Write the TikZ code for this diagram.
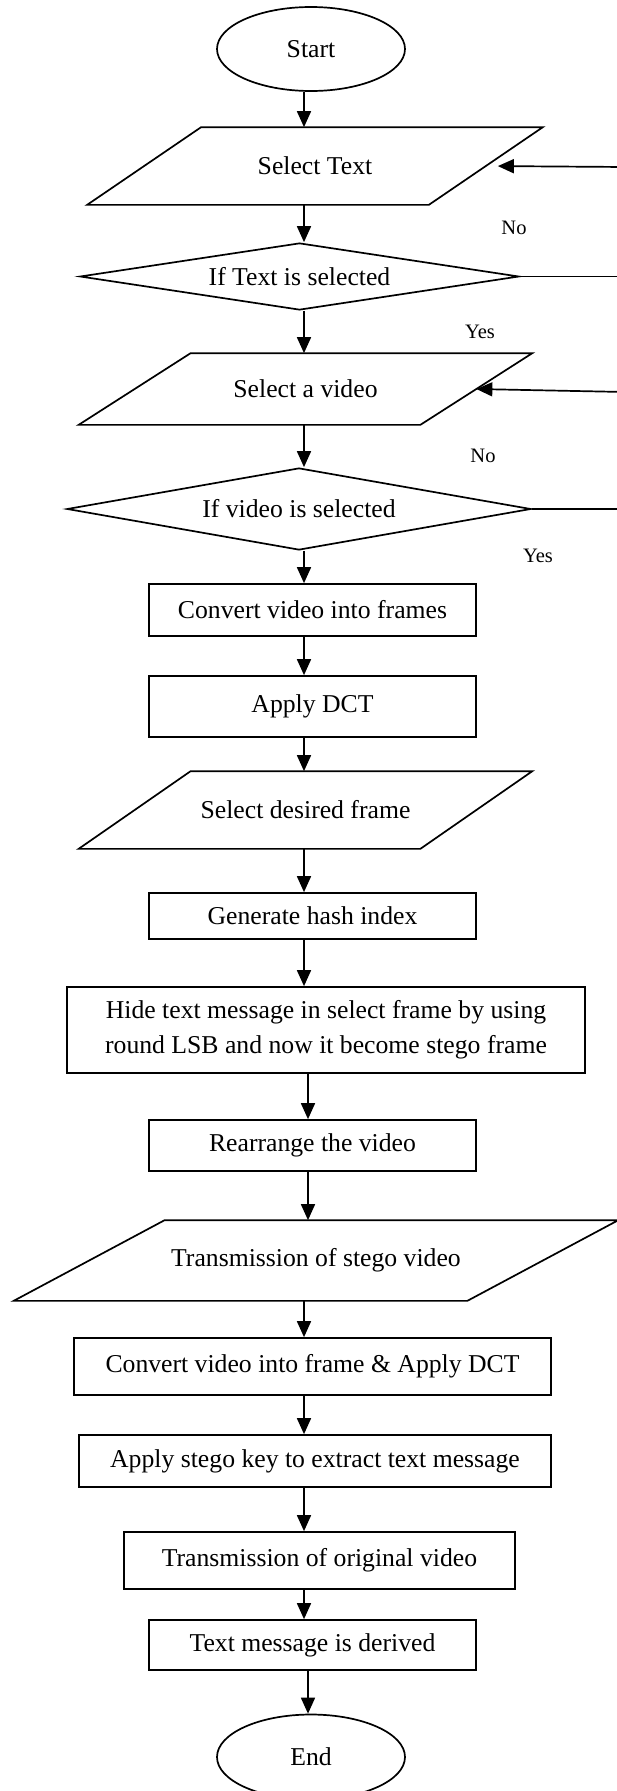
\documentclass[tikz,border=0pt]{standalone}
\usepackage{fontspec}
\setmainfont{Liberation Serif}
\usetikzlibrary{shapes.geometric, arrows.meta}

\begin{document}
\begin{tikzpicture}[x=1pt, y=-1pt, line width=1.7pt,
    >={Triangle[length=16pt,width=14pt]},
    every node/.style={font=\fontsize{25.7}{35}\selectfont},
    terminal/.style={draw, ellipse, minimum width=188pt, minimum height=84pt, inner sep=0pt},
    inout/.style={minimum width=340pt, minimum height=76pt, inner sep=0pt,
      append after command={\pgfextra{\draw ([xshift=-#1]\tikzlastnode.south west)
        -- ([xshift=-#1]\tikzlastnode.south east) -- ([xshift=#1]\tikzlastnode.north east)
        -- ([xshift=#1]\tikzlastnode.north west) -- cycle;}}},
    inout/.default=57pt,
    decision/.style={draw, diamond, aspect=5, inner sep=0pt},
    process/.style={draw, rectangle, minimum width=327pt, inner sep=0pt},
    answer/.style={font=\fontsize{20.5}{24}\selectfont}]
      \useasboundingbox (0,0) rectangle (617,1791);
      \clip (0,0) rectangle (617,1791);
      \coordinate (spine) at (304,0);
      \coordinate (spine2) at (308,0);
      % Steps
      \node[terminal] (start) at (311,49) {Start};
      \node[inout] (seltext) at (315,166) {Select Text};
      \node[decision, minimum width=439pt, minimum height=67pt] (iftext) at (299.5,276.5) {If Text is selected};
      \node[inout=56pt, minimum height=70pt] (selvid) at (305.5,389) {Select a video};
      \node[decision, minimum width=464pt, minimum height=82pt] (ifvid) at (299,509) {If video is selected};
      \node[process, minimum height=52pt] (conv) at (312.5,610) {Convert video into frames};
      \node[process, minimum height=61pt] (dct) at (312.5,706.5) {Apply DCT};
      \node[inout=56pt] (selframe) at (305.5,810) {Select desired frame};
      \node[process, minimum height=46pt] (hash) at (312.5,916) {Generate hash index};
      \node[process, minimum width=518pt, minimum height=86pt, align=center] (hide) at (326,1030) {Hide text message in select frame by using\\round LSB and now it become stego frame};
      \node[process, minimum height=51pt] (rearr) at (312.5,1145.5) {Rearrange the video};
      \node[inout=75.5pt, minimum width=452pt, minimum height=79pt] (trans) at (316,1260.5) {Transmission of stego video};
      \node[process, minimum width=477pt, minimum height=57pt] (conv2) at (312.5,1366.5) {Convert video into frame \& Apply DCT};
      \node[process, minimum width=472pt, minimum height=52pt] (key) at (315,1461) {Apply stego key to extract text message};
      \node[process, minimum width=391pt, minimum height=57pt] (orig) at (319.5,1560.5) {Transmission of original video};
      \node[process, minimum height=50pt] (derived) at (312.5,1645) {Text message is derived};
      \node[terminal, minimum height=85pt] (end) at (311,1757) {End};
      % Answers
      \node[answer] (no1) at (514,228) {No};
      \node[answer] (yes1) at (480,332) {Yes};
      \node[answer] (no2) at (483,456) {No};
      \node[answer] (yes2) at (538,556) {Yes};
      % Arrows
      \draw[->] (start.south -| spine) -- (seltext.north -| spine);
      \draw[->] (seltext.south -| spine) -- (iftext.north -| spine);
      \draw[->] (iftext.south -| spine) -- (selvid.north -| spine);
      \draw[->] (selvid.south -| spine) -- (ifvid.north -| spine);
      \draw[->] (ifvid.south -| spine) -- (conv.north -| spine);
      \draw[->] (conv.south -| spine) -- (dct.north -| spine);
      \draw[->] (dct.south -| spine) -- (selframe.north -| spine);
      \draw[->] (selframe.south -| spine) -- (hash.north -| spine);
      \draw[->] (hash.south -| spine) -- (hide.north -| spine);
      \draw[->] (hide.south -| spine2) -- (rearr.north -| spine2);
      \draw[->] (rearr.south -| spine2) -- (trans.north -| spine2);
      \draw[->] (trans.south -| spine) -- (conv2.north -| spine);
      \draw[->] (conv2.south -| spine) -- (key.north -| spine);
      \draw[->] (key.south -| spine) -- (orig.north -| spine);
      \draw[->] (orig.south -| spine) -- (derived.north -| spine);
      \draw[->] (derived.south -| spine2) -- (end.north -| spine2);
      % Loops back
      \coordinate (back1) at (625,167);
      \coordinate (back2) at (625,392);
      \coordinate (back3) at (625,276.5);
      \coordinate (back4) at (625,509);
      \draw[->, shorten >=12pt] (back1) -- (seltext.east);
      \draw[->] (back2) -- (selvid.east);
      \draw (iftext.east) -- (back3);
      \draw (ifvid.east) -- (back4);
    \end{tikzpicture}
\end{document}
